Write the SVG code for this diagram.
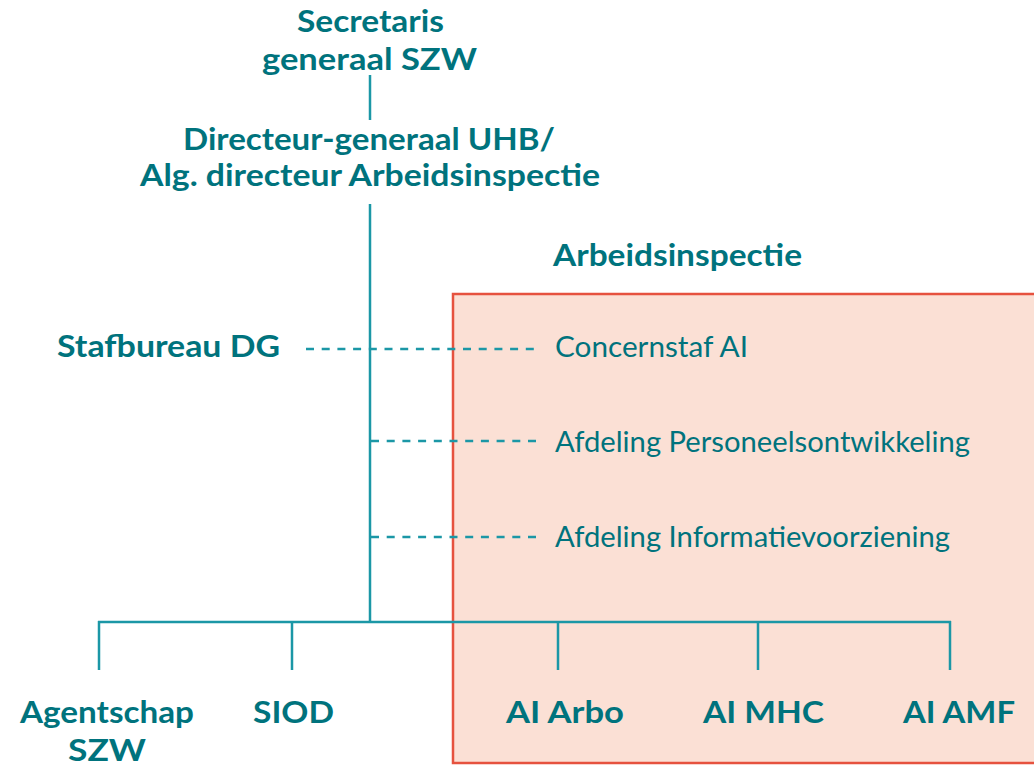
<svg xmlns="http://www.w3.org/2000/svg" width="1034" height="767" viewBox="0 0 1034 767">
<style>
.b{font-family:Lato,"Open Sans",sans-serif;font-weight:bold;font-size:30px;fill:#00737d}
.r{font-family:Lato,"Open Sans",sans-serif;font-size:28px;fill:#00737d}
.ln{stroke:#1b97a6;stroke-width:2.5;fill:none}
.d{stroke:#1b97a6;stroke-width:2.5;fill:none;stroke-dasharray:8 7.7}
</style>
<rect id="ai-box" x="453" y="294" width="590" height="469" fill="#fbe0d5" stroke="#e6523f" stroke-width="2.5"/>
<g id="connectors">
<line class="ln" x1="370" y1="75" x2="370" y2="120"/>
<line class="ln" x1="370" y1="204" x2="370" y2="622"/>
<line class="ln" x1="98" y1="622" x2="951" y2="622"/>
<line class="ln" x1="99" y1="621" x2="99" y2="670"/>
<line class="ln" x1="292" y1="621" x2="292" y2="670"/>
<line class="ln" x1="558" y1="621" x2="558" y2="670"/>
<line class="ln" x1="758" y1="621" x2="758" y2="670"/>
<line class="ln" x1="950" y1="621" x2="950" y2="670"/>
<line class="d" x1="306" y1="349" x2="540" y2="349"/>
<line class="d" x1="371" y1="441" x2="540" y2="441"/>
<line class="d" x1="371" y1="537" x2="540" y2="537"/>
</g>
<g id="sg"><text class="b" x="297" y="32" textLength="147" lengthAdjust="spacingAndGlyphs">Secretaris</text><text class="b" x="262" y="70" textLength="215" lengthAdjust="spacingAndGlyphs">generaal SZW</text></g>
<g id="dg"><text class="b" x="183" y="150" textLength="372" lengthAdjust="spacingAndGlyphs">Directeur-generaal UHB/</text><text class="b" x="140" y="186" textLength="460" lengthAdjust="spacingAndGlyphs">Alg. directeur Arbeidsinspectie</text></g>
<g id="ai-title"><text class="b" x="553" y="266" textLength="249" lengthAdjust="spacingAndGlyphs">Arbeidsinspectie</text></g>
<g id="stafbureau"><text class="b" x="57" y="357" textLength="223" lengthAdjust="spacingAndGlyphs">Stafbureau DG</text></g>
<g id="concernstaf"><text class="r" x="555" y="357" textLength="193" lengthAdjust="spacingAndGlyphs">Concernstaf AI</text></g>
<g id="personeel"><text class="r" x="555" y="452" textLength="415" lengthAdjust="spacingAndGlyphs">Afdeling Personeelsontwikkeling</text></g>
<g id="informatie"><text class="r" x="555" y="547" textLength="395" lengthAdjust="spacingAndGlyphs">Afdeling Informatievoorziening</text></g>
<g id="agentschap"><text class="b" x="20" y="723" textLength="174" lengthAdjust="spacingAndGlyphs">Agentschap</text><text class="b" x="68" y="761" textLength="78" lengthAdjust="spacingAndGlyphs">SZW</text></g>
<g id="siod"><text class="b" x="253" y="723" textLength="81" lengthAdjust="spacingAndGlyphs">SIOD</text></g>
<g id="arbo"><text class="b" x="506" y="723" textLength="118" lengthAdjust="spacingAndGlyphs">AI Arbo</text></g>
<g id="mhc"><text class="b" x="703" y="723" textLength="121" lengthAdjust="spacingAndGlyphs">AI MHC</text></g>
<g id="amf"><text class="b" x="903" y="723" textLength="112" lengthAdjust="spacingAndGlyphs">AI AMF</text></g>
</svg>
